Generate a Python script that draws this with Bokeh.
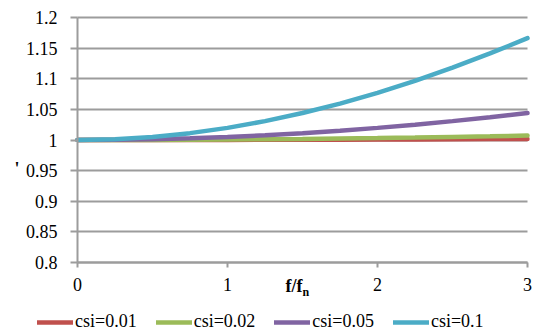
from bokeh.plotting import figure
from bokeh.models import (Range1d, FixedTicker, CustomJSTickFormatter, Legend,
                          LegendItem, ColumnDataSource, Label)
from bokeh.embed import file_html
from bokeh.resources import INLINE

# ---- data ----
f_ratio = [0, 0.25, 0.5, 0.75, 1.0, 1.25, 1.5, 1.75, 2.0, 2.25, 2.5, 2.75, 3.0]
csi_001 = [1.0, 1.0000, 1.0001, 1.0001, 1.0002, 1.0003, 1.0005, 1.0006, 1.0008, 1.0010, 1.0012, 1.0015, 1.0018]
csi_002 = [1.0, 1.0001, 1.0002, 1.0005, 1.0008, 1.0012, 1.0018, 1.0025, 1.0032, 1.0040, 1.0050, 1.0060, 1.0072]
csi_005 = [1.0, 1.0003, 1.0012, 1.0028, 1.0050, 1.0078, 1.0112, 1.0152, 1.0198, 1.0250, 1.0308, 1.0371, 1.0440]
csi_010 = [1.0, 1.0012, 1.0050, 1.0112, 1.0198, 1.0308, 1.0440, 1.0595, 1.0770, 1.0966, 1.1180, 1.1413, 1.1662]
series_names = ["csi=0.01", "csi=0.02", "csi=0.05", "csi=0.1"]
series_values = [csi_001, csi_002, csi_005, csi_010]
colors = ["#C0504D", "#9BBB59", "#8064A2", "#4BACC6"]
x_ticks = [0, 1, 2, 3]
y_ticks = [0.8, 0.85, 0.9, 0.95, 1.0, 1.05, 1.1, 1.15, 1.2]
x_title = "f/f"
x_title_sub = "n"
y_title_fragment = "'"

FONT = "Liberation Serif"
GRID = "#9c9c9c"
FS = "18px"

# ---- layout: the frame fills the canvas; axes are pinned inside it ----
W, H = 541, 335
PL, PR, PT, PB = 77, 527, 17, 262          # pixel box of the plotting area
x_lo, x_hi = x_ticks[0], x_ticks[-1]
y_lo, y_hi = y_ticks[0], y_ticks[-1]
sx = (PR - PL) / (x_hi - x_lo)
sy = (PB - PT) / (y_hi - y_lo)
x_range = Range1d(x_lo - PL / sx, x_hi + (W - PR) / sx)
y_range = Range1d(y_lo - (H - PB) / sy, y_hi + PT / sy)

p = figure(width=W, height=H, output_backend="svg", toolbar_location=None,
           x_range=x_range, y_range=y_range, min_border=0)
p.outline_line_color = None
p.xgrid.grid_line_color = None

# horizontal grid lines limited to the plotting area
grid = p.ygrid[0]
grid.ticker = FixedTicker(ticks=y_ticks)
if "cross_bounds" in grid.properties():
    grid.cross_bounds = (x_lo, x_hi)
    grid.grid_line_color = GRID
    grid.grid_line_width = 2
else:
    grid.grid_line_color = None
    p.segment(x0=[x_lo] * len(y_ticks), x1=[x_hi] * len(y_ticks), y0=y_ticks,
              y1=y_ticks, line_color=GRID, line_width=2)

# y axis
p.yaxis.fixed_location = x_lo
p.yaxis.bounds = (y_lo, y_hi)
p.yaxis.ticker = FixedTicker(ticks=y_ticks)
p.yaxis.formatter = CustomJSTickFormatter(code="return tick.toFixed(2).replace(/\\.?0+$/, '')")
p.yaxis.axis_line_color = GRID
p.yaxis.axis_line_width = 2
p.yaxis.major_tick_line_color = GRID
p.yaxis.major_tick_line_width = 2
p.yaxis.major_tick_in = 0
p.yaxis.major_tick_out = 7
p.yaxis.minor_tick_line_color = None
p.yaxis.major_label_standoff = 13
p.yaxis.major_label_text_font = FONT
p.yaxis.major_label_text_font_size = FS
p.yaxis.major_label_text_color = "black"

# x axis
p.xaxis.fixed_location = y_lo
p.xaxis.bounds = (x_lo, x_hi)
p.xaxis.ticker = FixedTicker(ticks=x_ticks)
p.xaxis.axis_line_color = GRID
p.xaxis.axis_line_width = 2
p.xaxis.major_tick_line_color = GRID
p.xaxis.major_tick_line_width = 2
p.xaxis.major_tick_in = 0
p.xaxis.major_tick_out = 5
p.xaxis.minor_tick_line_color = None
p.xaxis.major_label_standoff = 10
p.xaxis.major_label_text_font = FONT
p.xaxis.major_label_text_font_size = FS
p.xaxis.major_label_text_color = "black"

renderers = []
for name, vals, c in zip(series_names, series_values, colors):
    src = ColumnDataSource(dict(x=f_ratio, y=vals))
    r = p.line("x", "y", source=src, line_color=c, line_width=4.5, line_cap="round")
    renderers.append((name, r))

# axis title in the tick-label row
p.add_layout(Label(x=1.387, y=y_lo, y_offset=-23, text=x_title,
                   text_font=FONT, text_font_size=FS, text_font_style="bold",
                   text_align="left", text_baseline="middle", text_color="black"))
p.add_layout(Label(x=1.387, y=y_lo, x_offset=17, y_offset=-29, text=x_title_sub,
                   text_font=FONT, text_font_size="12px", text_font_style="bold",
                   text_align="left", text_baseline="middle", text_color="black"))
# fragment of a cut-off y-axis title at the far left
p.add_layout(Label(x=x_lo, y=0.95, x_offset=-63, y_offset=2, text=y_title_fragment,
                   text_font=FONT, text_font_size=FS, text_font_style="bold",
                   text_align="left", text_baseline="middle", text_color="black"))

legend = Legend(items=[LegendItem(label=n, renderers=[r]) for n, r in renderers],
                orientation="horizontal", location=(37, 3),
                glyph_width=36, glyph_height=20, label_standoff=2, spacing=19,
                padding=0, margin=0, border_line_color=None,
                background_fill_alpha=0,
                label_text_font=FONT, label_text_font_size=FS,
                label_text_color="black")
p.add_layout(legend, "center")

open("out.html", "w").write(file_html(p, INLINE))
